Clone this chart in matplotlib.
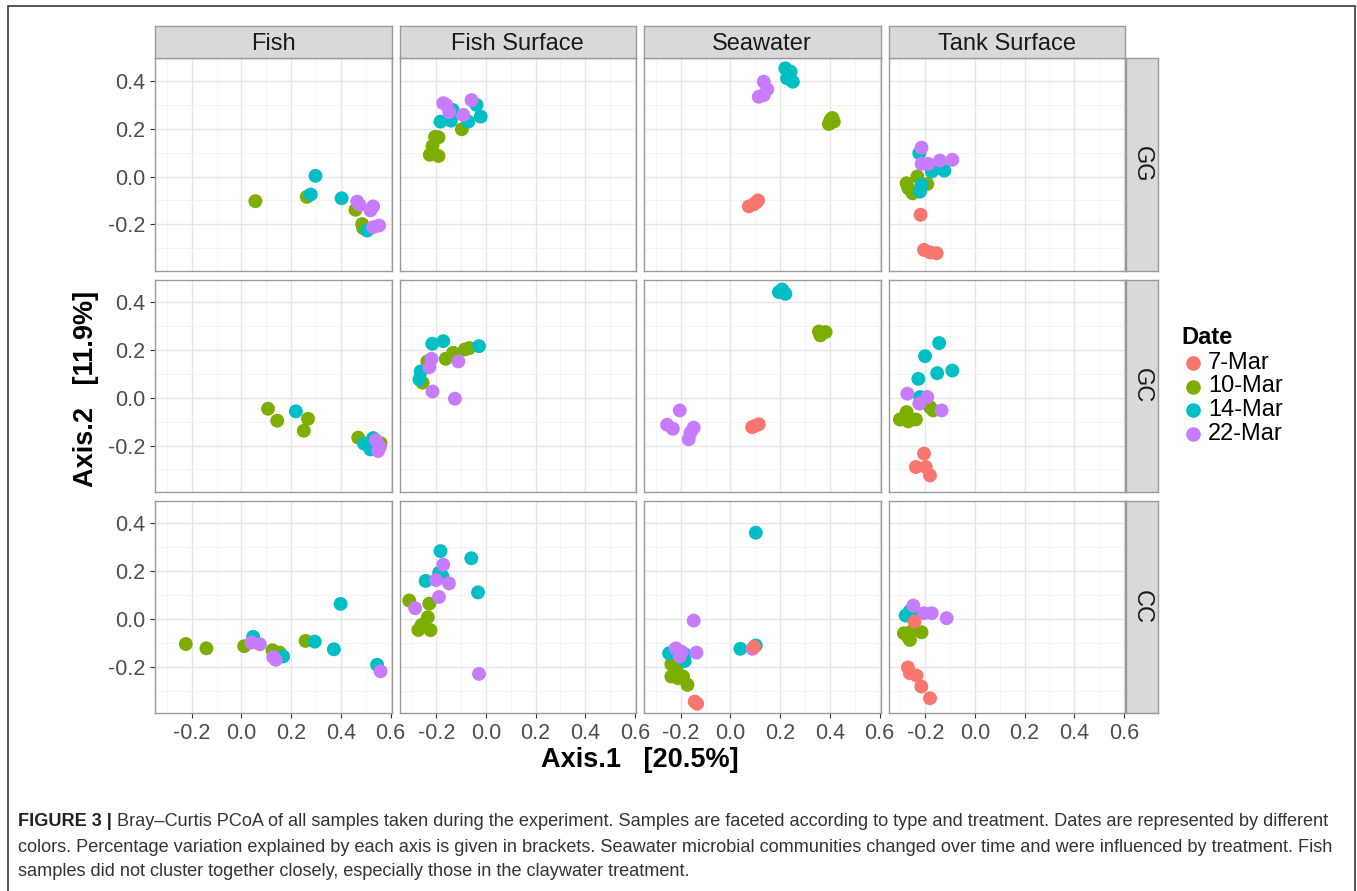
import matplotlib
matplotlib.use("Agg")
import matplotlib.pyplot as plt
from matplotlib.lines import Line2D
from matplotlib.patches import Rectangle

plt.rcParams['font.family'] = ['Liberation Sans', 'DejaVu Sans']

# ---------------- data ----------------
dates = ['7-Mar', '10-Mar', '14-Mar', '22-Mar']
date_colors = ['#F8766D', '#7CAE00', '#00BFC4', '#C77CFF']
sample_types = ['Fish', 'Fish Surface', 'Seawater', 'Tank Surface']
treatments = ['GG', 'GC', 'CC']
x_ticks = [-0.2, 0.0, 0.2, 0.4, 0.6]
x_tick_labels = ['-0.2', '0.0', '0.2', '0.4', '0.6']
y_ticks = [-0.2, 0.0, 0.2, 0.4]
y_tick_labels = ['-0.2', '0.0', '0.2', '0.4']
x_title = 'Axis.1   [20.5%]'
y_title = 'Axis.2   [11.9%]'

# GG
GG_Fish_x = [0.056, 0.263, 0.459, 0.486, 0.490, 0.298, 0.279, 0.403, 0.506, 0.466, 0.475, 0.519, 0.530, 0.530, 0.554]
GG_Fish_y = [-0.103, -0.085, -0.139, -0.199, -0.216, 0.003, -0.075, -0.091, -0.226, -0.105, -0.118, -0.142, -0.125, -0.212, -0.205]
GG_Fish_d = ['10-Mar', '10-Mar', '10-Mar', '10-Mar', '10-Mar', '14-Mar', '14-Mar', '14-Mar', '14-Mar',
             '22-Mar', '22-Mar', '22-Mar', '22-Mar', '22-Mar', '22-Mar']

GG_FishSurface_x = [-0.097, -0.191, -0.205, -0.215, -0.226, -0.191, -0.134, -0.183, -0.141, -0.071, -0.038, -0.021, -0.172, -0.148, -0.091, -0.058, -0.160]
GG_FishSurface_y = [0.198, 0.164, 0.166, 0.128, 0.091, 0.086, 0.279, 0.230, 0.234, 0.230, 0.300, 0.251, 0.307, 0.270, 0.258, 0.320, 0.300]
GG_FishSurface_d = ['10-Mar', '10-Mar', '10-Mar', '10-Mar', '10-Mar', '10-Mar', '14-Mar', '14-Mar', '14-Mar', '14-Mar',
                    '14-Mar', '14-Mar', '22-Mar', '22-Mar', '22-Mar', '22-Mar', '22-Mar']

GG_Seawater_x = [0.074, 0.094, 0.111, 0.104, 0.403, 0.396, 0.416, 0.410, 0.221, 0.242, 0.228, 0.251, 0.134, 0.148, 0.114, 0.134]
GG_Seawater_y = [-0.125, -0.116, -0.100, -0.108, 0.237, 0.220, 0.230, 0.245, 0.453, 0.439, 0.411, 0.397, 0.397, 0.365, 0.334, 0.341]
GG_Seawater_d = ['7-Mar', '7-Mar', '7-Mar', '7-Mar', '10-Mar', '10-Mar', '10-Mar', '10-Mar', '14-Mar', '14-Mar',
                 '14-Mar', '14-Mar', '22-Mar', '22-Mar', '22-Mar', '22-Mar']

GG_TankSurface_x = [-0.219, -0.205, -0.179, -0.154, -0.232, -0.275, -0.268, -0.251, -0.192, -0.224, -0.174, -0.148, -0.123, -0.221, -0.215, -0.215, -0.215, -0.188, -0.141, -0.091]
GG_TankSurface_y = [-0.160, -0.307, -0.318, -0.321, 0.000, -0.028, -0.049, -0.070, -0.031, 0.098, 0.021, 0.035, 0.025, -0.063, -0.035, 0.121, 0.053, 0.053, 0.067, 0.070]
GG_TankSurface_d = ['7-Mar', '7-Mar', '7-Mar', '7-Mar', '10-Mar', '10-Mar', '10-Mar', '10-Mar', '10-Mar', '14-Mar',
                    '14-Mar', '14-Mar', '14-Mar', '14-Mar', '14-Mar', '22-Mar', '22-Mar', '22-Mar', '22-Mar', '22-Mar']

# GC
GC_Fish_x = [0.107, 0.144, 0.268, 0.251, 0.470, 0.560, 0.219, 0.493, 0.530, 0.519, 0.538, 0.541, 0.550, 0.557]
GC_Fish_y = [-0.046, -0.096, -0.088, -0.138, -0.167, -0.190, -0.057, -0.192, -0.169, -0.216, -0.206, -0.178, -0.223, -0.206]
GC_Fish_d = ['10-Mar', '10-Mar', '10-Mar', '10-Mar', '10-Mar', '10-Mar', '14-Mar', '14-Mar', '14-Mar', '14-Mar',
             '14-Mar', '22-Mar', '22-Mar', '22-Mar']

GC_FishSurface_x = [-0.067, -0.085, -0.132, -0.162, -0.236, -0.255, -0.216, -0.172, -0.028, -0.263, -0.268, -0.111, -0.219, -0.228, -0.215, -0.125]
GC_FishSurface_y = [0.208, 0.202, 0.188, 0.163, 0.152, 0.063, 0.226, 0.237, 0.216, 0.110, 0.077, 0.152, 0.163, 0.128, 0.026, -0.004]
GC_FishSurface_d = ['10-Mar', '10-Mar', '10-Mar', '10-Mar', '10-Mar', '10-Mar', '14-Mar', '14-Mar', '14-Mar', '14-Mar',
                    '14-Mar', '22-Mar', '22-Mar', '22-Mar', '22-Mar', '22-Mar']

GC_Seawater_x = [0.087, 0.114, 0.100, 0.356, 0.383, 0.362, 0.370, 0.195, 0.221, 0.208, -0.204, -0.255, -0.232, -0.148, -0.161, -0.168]
GC_Seawater_y = [-0.123, -0.111, -0.117, 0.277, 0.275, 0.261, 0.270, 0.442, 0.435, 0.453, -0.053, -0.113, -0.130, -0.125, -0.146, -0.174]
GC_Seawater_d = ['7-Mar', '7-Mar', '7-Mar', '10-Mar', '10-Mar', '10-Mar', '10-Mar', '14-Mar', '14-Mar', '14-Mar',
                 '22-Mar', '22-Mar', '22-Mar', '22-Mar', '22-Mar', '22-Mar']

GC_TankSurface_x = [-0.205, -0.238, -0.198, -0.181, -0.181, -0.168, -0.275, -0.302, -0.268, -0.238, -0.144, -0.201, -0.091, -0.152, -0.228, -0.221, -0.272, -0.192, -0.224, -0.134]
GC_TankSurface_y = [-0.234, -0.290, -0.290, -0.325, -0.039, -0.053, -0.060, -0.091, -0.099, -0.091, 0.229, 0.174, 0.114, 0.103, 0.079, 0.003, 0.017, 0.003, -0.025, -0.053]
GC_TankSurface_d = ['7-Mar', '7-Mar', '7-Mar', '7-Mar', '10-Mar', '10-Mar', '10-Mar', '10-Mar', '10-Mar', '10-Mar',
                    '14-Mar', '14-Mar', '14-Mar', '14-Mar', '14-Mar', '14-Mar', '22-Mar', '22-Mar', '22-Mar', '22-Mar']

# CC
CC_Fish_x = [-0.224, -0.141, 0.011, 0.125, 0.154, 0.258, 0.047, 0.168, 0.295, 0.372, 0.399, 0.546, 0.040, 0.074, 0.128, 0.138, 0.560]
CC_Fish_y = [-0.105, -0.123, -0.114, -0.131, -0.141, -0.092, -0.075, -0.157, -0.095, -0.127, 0.063, -0.192, -0.099, -0.106, -0.160, -0.171, -0.219]
CC_Fish_d = ['10-Mar', '10-Mar', '10-Mar', '10-Mar', '10-Mar', '10-Mar', '14-Mar', '14-Mar', '14-Mar', '14-Mar',
             '14-Mar', '14-Mar', '22-Mar', '22-Mar', '22-Mar', '22-Mar', '22-Mar']

CC_FishSurface_x = [-0.309, -0.228, -0.234, -0.259, -0.272, -0.223, -0.183, -0.059, -0.188, -0.176, -0.243, -0.032, -0.172, -0.201, -0.149, -0.189, -0.285, -0.028]
CC_FishSurface_y = [0.077, 0.064, 0.007, -0.025, -0.046, -0.047, 0.284, 0.254, 0.194, 0.180, 0.159, 0.111, 0.227, 0.163, 0.149, 0.092, 0.045, -0.230]
CC_FishSurface_d = ['10-Mar', '10-Mar', '10-Mar', '10-Mar', '10-Mar', '10-Mar', '14-Mar', '14-Mar', '14-Mar', '14-Mar',
                    '14-Mar', '14-Mar', '22-Mar', '22-Mar', '22-Mar', '22-Mar', '22-Mar', '22-Mar']

CC_Seawater_x = [0.095, -0.144, -0.134, -0.238, -0.217, -0.238, -0.211, -0.191, -0.173, 0.102, -0.247, -0.184, -0.184, 0.040, 0.102, -0.148, -0.220, -0.197, -0.204, -0.137, 0.089]
CC_Seawater_y = [-0.117, -0.346, -0.355, -0.190, -0.213, -0.241, -0.248, -0.241, -0.276, 0.361, -0.144, -0.148, -0.176, -0.125, -0.111, -0.007, -0.123, -0.137, -0.157, -0.141, -0.125]
CC_Seawater_d = ['7-Mar', '7-Mar', '7-Mar', '10-Mar', '10-Mar', '10-Mar', '10-Mar', '10-Mar', '10-Mar', '14-Mar',
                 '14-Mar', '14-Mar', '14-Mar', '14-Mar', '14-Mar', '22-Mar', '22-Mar', '22-Mar', '22-Mar', '22-Mar', '22-Mar']

CC_TankSurface_x = [-0.243, -0.270, -0.262, -0.235, -0.216, -0.181, -0.286, -0.256, -0.262, -0.215, -0.270, -0.262, -0.279, -0.252, -0.248, -0.205, -0.174, -0.114]
CC_TankSurface_y = [-0.011, -0.203, -0.227, -0.237, -0.283, -0.332, -0.060, -0.053, -0.088, -0.056, -0.075, 0.033, 0.014, 0.024, 0.056, 0.024, 0.024, 0.003]
CC_TankSurface_d = ['7-Mar', '7-Mar', '7-Mar', '7-Mar', '7-Mar', '7-Mar', '10-Mar', '10-Mar', '10-Mar', '10-Mar',
                    '10-Mar', '14-Mar', '14-Mar', '14-Mar', '22-Mar', '22-Mar', '22-Mar', '22-Mar']

panels = {
    ('GG', 'Fish'): (GG_Fish_x, GG_Fish_y, GG_Fish_d),
    ('GG', 'Fish Surface'): (GG_FishSurface_x, GG_FishSurface_y, GG_FishSurface_d),
    ('GG', 'Seawater'): (GG_Seawater_x, GG_Seawater_y, GG_Seawater_d),
    ('GG', 'Tank Surface'): (GG_TankSurface_x, GG_TankSurface_y, GG_TankSurface_d),
    ('GC', 'Fish'): (GC_Fish_x, GC_Fish_y, GC_Fish_d),
    ('GC', 'Fish Surface'): (GC_FishSurface_x, GC_FishSurface_y, GC_FishSurface_d),
    ('GC', 'Seawater'): (GC_Seawater_x, GC_Seawater_y, GC_Seawater_d),
    ('GC', 'Tank Surface'): (GC_TankSurface_x, GC_TankSurface_y, GC_TankSurface_d),
    ('CC', 'Fish'): (CC_Fish_x, CC_Fish_y, CC_Fish_d),
    ('CC', 'Fish Surface'): (CC_FishSurface_x, CC_FishSurface_y, CC_FishSurface_d),
    ('CC', 'Seawater'): (CC_Seawater_x, CC_Seawater_y, CC_Seawater_d),
    ('CC', 'Tank Surface'): (CC_TankSurface_x, CC_TankSurface_y, CC_TankSurface_d),
}

caption_bold = 'FIGURE 3 |'
caption_lines = [
    ' Bray\u2013Curtis PCoA of all samples taken during the experiment. Samples are faceted according to type and treatment. Dates are represented by different',
    'colors. Percentage variation explained by each axis is given in brackets. Seawater microbial communities changed over time and were influenced by treatment. Fish',
    'samples did not cluster together closely, especially those in the claywater treatment.',
]

# ---------------- layout (pixels) ----------------
W, H = 1357, 891
fig = plt.figure(figsize=(W / 100, H / 100), dpi=100)
fig.patch.set_facecolor('white')


def frect(left, top, width, height):
    return [left / W, 1 - (top + height) / H, width / W, height / H]


col_left = [155, 399.5, 644, 888.5]
panel_w = 236.5
row_top = [58.3, 279.5, 500.7]
panel_h = 212.6
strip_top_y = 26
strip_right_x = 1125.5
strip_size = 32.3
xlim = (-0.348, 0.604)
ylim = (-0.395, 0.495)
border_col = '#9A9A9A'
strip_fill = '#D9D9D9'
draw_order = ['10-Mar', '14-Mar', '22-Mar', '7-Mar']
color_of = dict(zip(dates, date_colors))

for r, trt in enumerate(treatments):
    for c, st in enumerate(sample_types):
        ax = fig.add_axes(frect(col_left[c], row_top[r], panel_w, panel_h))
        ax.set_xlim(*xlim)
        ax.set_ylim(*ylim)
        ax.set_xticks(x_ticks)
        ax.set_yticks(y_ticks)
        ax.set_xticks([-0.3, -0.1, 0.1, 0.3, 0.5], minor=True)
        ax.set_yticks([-0.3, -0.1, 0.1, 0.3], minor=True)
        ax.grid(True, which='major', color='#E6E6E6', linewidth=1.0)
        ax.grid(True, which='minor', color='#F3F3F3', linewidth=0.6)
        ax.set_axisbelow(True)
        for sp in ax.spines.values():
            sp.set_color(border_col)
            sp.set_linewidth(1.0)
        ax.tick_params(which='minor', length=0)
        ax.tick_params(which='major', length=3.5, width=0.8, color='#333333',
                       labelcolor='#4D4D4D', labelsize=15.5, pad=3.5)
        if c == 0:
            ax.set_yticklabels(y_tick_labels)
        else:
            ax.tick_params(axis='y', which='major', length=0, labelleft=False)
        if r == len(treatments) - 1:
            ax.set_xticklabels(x_tick_labels)
        else:
            ax.tick_params(axis='x', which='major', length=0, labelbottom=False)

        xs, ys, ds = panels[(trt, st)]
        for dname in draw_order:
            px = [x for x, d in zip(xs, ds) if d == dname]
            py = [y for y, d in zip(ys, ds) if d == dname]
            if px:
                ax.scatter(px, py, s=100, color=color_of[dname], edgecolors='none', zorder=3)

# top strips
for c, st in enumerate(sample_types):
    sax = fig.add_axes(frect(col_left[c], strip_top_y, panel_w, strip_size))
    sax.set_facecolor(strip_fill)
    sax.set_xticks([]); sax.set_yticks([])
    for sp in sax.spines.values():
        sp.set_color(border_col); sp.set_linewidth(1.0)
    sax.text(0.5, 0.45, st, ha='center', va='center', fontsize=17, color='#1A1A1A',
             transform=sax.transAxes)

# right strips
for r, trt in enumerate(treatments):
    sax = fig.add_axes(frect(strip_right_x, row_top[r], strip_size, panel_h))
    sax.set_facecolor(strip_fill)
    sax.set_xticks([]); sax.set_yticks([])
    for sp in sax.spines.values():
        sp.set_color(border_col); sp.set_linewidth(1.0)
    sax.text(0.5, 0.5, trt, ha='center', va='center', fontsize=17, color='#1A1A1A',
             rotation=270, transform=sax.transAxes)

# axis titles
fig.text(640 / W, 1 - 760 / H, x_title, ha='center', va='center', fontsize=19.5,
         fontweight='bold', color='black')
fig.text(86 / W, 1 - 389 / H, y_title, ha='center', va='center', fontsize=19.5,
         fontweight='bold', color='black', rotation=90)

# legend
fig.text(1181.5 / W, 1 - 338 / H, 'Date', ha='left', va='center', fontsize=17,
         fontweight='bold', color='black')
leg_y = [363, 386.5, 410, 433.5]
for dname, yy in zip(dates, leg_y):
    fig.add_artist(Line2D([1192.7 / W], [1 - yy / H], marker='o', markersize=9.5,
                          color=color_of[dname], linestyle='none', transform=fig.transFigure))
    fig.text(1208 / W, 1 - yy / H, dname, ha='left', va='center', fontsize=17, color='black')

# outer frame
fig.add_artist(Rectangle((8 / W, -0.05), (1354.5 - 8) / W, 1 - 6 / H + 0.05,
                         transform=fig.transFigure, fill=False, edgecolor='#3A3A3A',
                         linewidth=1.2, clip_on=False))

# caption
fig.canvas.draw()
renderer = fig.canvas.get_renderer()
cap_x0 = 18
cap_target_right = 1334
cap_y = [822, 847.5, 872]
fs = 12.0
tb = fig.text(cap_x0 / W, 1 - cap_y[0] / H, caption_bold, ha='left', va='center',
              fontsize=fs, fontweight='bold', color='#231F20')
tr = fig.text(0, 1 - cap_y[0] / H, caption_lines[0], ha='left', va='center', fontsize=fs,
              color='#333333')
wb = tb.get_window_extent(renderer).width
wr = tr.get_window_extent(renderer).width
scale = (cap_target_right - cap_x0) / (wb + wr)
fs = fs * scale
tb.set_fontsize(fs)
tr.set_fontsize(fs)
wb = tb.get_window_extent(renderer).width
tr.set_x((cap_x0 + wb) / W)
for line, yy in zip(caption_lines[1:], cap_y[1:]):
    fig.text(cap_x0 / W, 1 - yy / H, line, ha='left', va='center', fontsize=fs, color='#333333')

fig.savefig('out.png', dpi=100, facecolor='white')
